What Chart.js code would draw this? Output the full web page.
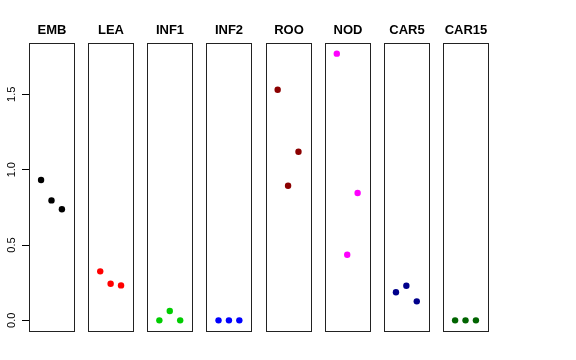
<!DOCTYPE html>
<html lang="en">
<head>
<meta charset="UTF-8">
<title>paineis</title>
<script src="https://cdn.jsdelivr.net/npm/chart.js"></script>
<style>
  body { margin: 0; background: #fff; }
</style>
</head>
<body>
<canvas id="grafico" width="576" height="360"></canvas>
<script>
// categorias e valores
const paineis = ['EMB', 'LEA', 'INF1', 'INF2', 'ROO', 'NOD', 'CAR5', 'CAR15'];
const EMB   = [0.931, 0.796, 0.737];
const LEA   = [0.325, 0.243, 0.232];
const INF1  = [0.0, 0.062, 0.0];
const INF2  = [0.0, 0.0, 0.0];
const ROO   = [1.530, 0.893, 1.119];
const NOD   = [1.770, 0.435, 0.845];
const CAR5  = [0.186, 0.230, 0.126];
const CAR15 = [0.0, 0.0, 0.0];
const ticksY = [0, 0.5, 1.0, 1.5];

const valores = [EMB, LEA, INF1, INF2, ROO, NOD, CAR5, CAR15];
const cores = ['#000000', '#ff0000', '#00cd00', '#0000ff', '#8b0000', '#ff00ff', '#00008b', '#006400'];

// cada painel vai de 0 a 4 (com 4% a mais, como no R), pontos em 1,2,3
const larguraPainel = 4.32;
const passo = 5.682;
const maxY = Math.max(...valores.flat());

const ctx = document.getElementById('grafico');

// desenha as caixas e os titulos de cada painel
const caixas = {
  id: 'caixas',
  afterDatasetsDraw(chart) {
    const c = chart.ctx;
    const xs = chart.scales.x;
    const area = chart.chartArea;
    c.save();
    c.strokeStyle = '#222';
    c.lineWidth = 1;
    c.fillStyle = '#000';
    c.font = 'bold 13px "Liberation Sans", Arial, sans-serif';
    c.textAlign = 'center';
    c.textBaseline = 'alphabetic';
    paineis.forEach(function (nome, k) {
      const esq = Math.round(xs.getPixelForValue(k * passo - 0.16)) + 0.5;
      const dir = Math.round(xs.getPixelForValue(k * passo + 4.16)) + 0.5;
      const topo = Math.round(area.top) + 0.5;
      const baixo = Math.round(area.bottom) + 0.5;
      c.strokeRect(esq, topo, dir - esq, baixo - topo);
      c.fillText(nome, (esq + dir) / 2, 34);
    });
    c.restore();
  }
};

let grafico = new Chart(ctx, {
  type: 'scatter',
  data: {
    datasets: paineis.map(function (nome, k) {
      return {
        label: nome,
        data: valores[k].map(function (v, j) { return { x: k * passo + j + 1, y: v }; }),
        backgroundColor: cores[k],
        borderWidth: 0,
        pointRadius: 3.2,
        clip: false
      };
    })
  },
  options: {
    responsive: false,
    animation: false,
    devicePixelRatio: 1,
    layout: { padding: { left: 0, right: 88, top: 43, bottom: 29 } },
    plugins: { legend: { display: false }, tooltip: { enabled: false } },
    scales: {
      x: {
        type: 'linear',
        display: false,
        min: -0.16,
        max: 7 * passo + 4.16
      },
      y: {
        type: 'linear',
        min: -0.04 * maxY,
        max: 1.04 * maxY,
        afterBuildTicks: function (s) { s.ticks = ticksY.map(function (v) { return { value: v }; }); },
        afterFit: function (s) { s.width = 29; },
        border: { display: false },
        grid: { drawOnChartArea: false, tickLength: 7, color: '#000', lineWidth: 1 },
        ticks: {
          minRotation: 90,
          maxRotation: 90,
          crossAlign: 'center',
          padding: 2,
          color: '#000',
          font: { family: '"Liberation Sans", Arial, sans-serif', size: 11 },
          callback: function (v) { return Number(v).toFixed(1); }
        }
      }
    }
  },
  plugins: [caixas]
});
</script>
</body>
</html>
